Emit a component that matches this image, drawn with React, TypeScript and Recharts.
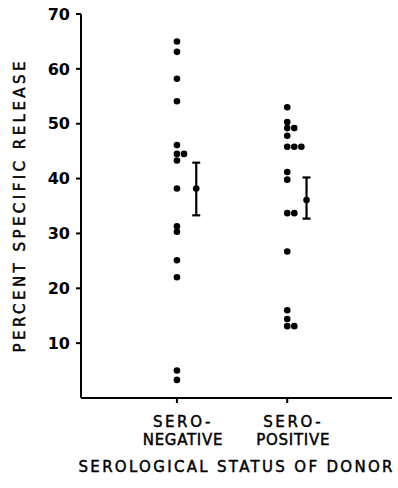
import React from 'react';
import { ScatterChart, Scatter, XAxis, YAxis, ErrorBar, Label } from 'recharts';

// percent specific release, one value per donor
const seroNegative = [65.0, 63.1, 58.2, 54.1, 46.1, 44.5, 44.5, 43.3, 38.2, 31.3, 30.3, 25.1, 22.0, 5.0, 3.3];
const seroPositive = [53.0, 50.3, 49.2, 49.2, 47.8, 45.8, 45.8, 45.8, 41.2, 39.8, 33.7, 33.7, 26.7, 16.0, 14.4, 13.1, 13.1];

// group mean with the bar ends (below / above the mean)
const groupMeans = [38.2, 36.1];
const errBelow = [4.9, 3.4];
const errAbove = [4.7, 4.1];

const groupLines = [
  ['SERO-', 'NEGATIVE'],
  ['SERO-', 'POSITIVE'],
];
const yTicks = [10, 20, 30, 40, 50, 60, 70];

const FONT = '"DejaVu Sans", Verdana, sans-serif';
const DODGE = 0.064;
const MEAN_OFFSET = 0.175;

// simple beeswarm: push a dot sideways when it would overlap one above it
function dodge(values: number[], center: number) {
  const lanes: number[][] = [];
  const sorted = [...values].sort((a, b) => b - a);
  return sorted.map((v) => {
    let lane = 0;
    while (lanes[lane] && lanes[lane].some((u) => Math.abs(u - v) < 0.9)) lane++;
    if (!lanes[lane]) lanes[lane] = [];
    lanes[lane].push(v);
    return { x: center + lane * DODGE, y: v };
  });
}

const dots = [...dodge(seroNegative, 1), ...dodge(seroPositive, 2)];
const means = groupMeans.map((m, i) => ({
  x: i + 1 + MEAN_OFFSET,
  y: m,
  err: [errBelow[i], errAbove[i]],
}));

const Dot = (props: any) => <circle cx={props.cx} cy={props.cy} r={3.3} fill="#000" />;

// lettering in the original is a bit heavier than DejaVu regular
const ink = { fill: '#000', stroke: '#000', strokeWidth: 0.45 };

const GroupTick = (props: any) => {
  const { x, y, payload } = props;
  const lines = groupLines[Math.round(payload.value) - 1] || [];
  return (
    <g>
      <text x={x + 6} y={y + 22} textAnchor="middle" fontFamily={FONT} fontSize={15} letterSpacing={2.6} {...ink}>
        {lines[0]}
      </text>
      <text x={x + 6} y={y + 40} textAnchor="middle" fontFamily={FONT} fontSize={15} letterSpacing={0.7} {...ink}>
        {lines[1]}
      </text>
    </g>
  );
};

const XTitle = (props: any) => {
  const vb = props.viewBox;
  return (
    <text
      x={vb.x + vb.width / 2 - 1}
      y={vb.y + 74}
      textAnchor="middle"
      fontFamily={FONT}
      fontSize={15}
      textLength={314}
      lengthAdjust="spacing"
      {...ink}
    >
      SEROLOGICAL STATUS OF DONOR
    </text>
  );
};

const YTitle = (props: any) => {
  const vb = props.viewBox;
  const cx = 25;
  const cy = vb.y + vb.height / 2 + 1;
  return (
    <text
      x={cx}
      y={cy}
      transform={`rotate(-90, ${cx}, ${cy})`}
      textAnchor="middle"
      fontFamily={FONT}
      fontSize={15}
      textLength={291}
      lengthAdjust="spacing"
      {...ink}
    >
      PERCENT SPECIFIC RELEASE
    </text>
  );
};

export default function App() {
  return (
    <div style={{ position: 'absolute', left: 0, top: 0, width: 398, height: 488, background: '#fff' }}>
      <ScatterChart width={398} height={488} margin={{ top: 14, right: 6, bottom: 0, left: 0 }}>
        <XAxis
          type="number"
          dataKey="x"
          domain={[0.13, 2.95]}
          ticks={[1, 2]}
          interval={0}
          allowDataOverflow
          height={90}
          tickSize={5}
          stroke="#000"
          strokeWidth={2}
          tick={<GroupTick />}
        >
          <Label content={<XTitle />} />
        </XAxis>
        <YAxis
          type="number"
          dataKey="y"
          domain={[0, 70]}
          ticks={yTicks}
          interval={0}
          width={81}
          tickSize={5}
          tickMargin={6}
          stroke="#000"
          strokeWidth={2}
          tick={{ fill: '#000', fontFamily: FONT, fontSize: 16, fontWeight: 'bold' }}
        >
          <Label content={<YTitle />} />
        </YAxis>
        <Scatter data={dots} shape={<Dot />} isAnimationActive={false} />
        <Scatter data={means} shape={<Dot />} isAnimationActive={false}>
          <ErrorBar dataKey="err" direction="y" width={4} stroke="#000" strokeWidth={2.2} />
        </Scatter>
      </ScatterChart>
    </div>
  );
}
